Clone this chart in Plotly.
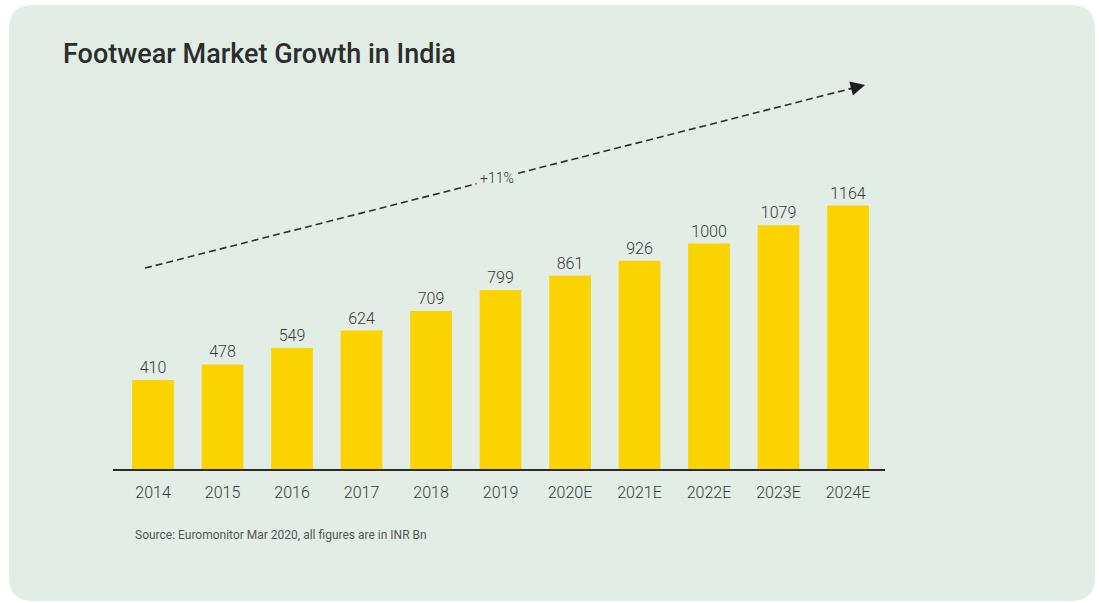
import plotly.graph_objects as go

# Market size by year (INR Bn); "E" marks estimates
years = ["2014", "2015", "2016", "2017", "2018", "2019",
         "2020E", "2021E", "2022E", "2023E", "2024E"]
market_size = [410, 478, 549, 624, 709, 799, 861, 926, 1000, 1079, 1164]

cagr_label = "+11%"
title_text = "Footwear Market Growth in India"
source_text = "Source: Euromonitor Mar 2020, all figures are in INR Bn"

CARD = "#e1ede5"
BAR = "#fbd300"
INK = "#2b2e2c"

W, H = 1099, 603
ML, MR, MT, MB = 113, 214, 60, 134

fig = go.Figure()
fig.add_trace(go.Bar(
    x=list(range(len(years))),
    y=market_size,
    marker=dict(color=BAR, line=dict(width=0)),
    text=[str(v) for v in market_size],
    textposition="outside",
    textfont=dict(family="Roboto", size=16, color="#3a3a3a", weight=300),
    cliponaxis=False,
    width=0.6,
    hoverinfo="skip",
))

# Dashed trend arrow with the growth rate riding on it
arrow_start = (-0.115, 894)
arrow_tip = (10.245, 1685)
frac = 0.975
arrow_body_end = (arrow_start[0] + (arrow_tip[0] - arrow_start[0]) * frac,
                  arrow_start[1] + (arrow_tip[1] - arrow_start[1]) * frac)

fig.add_shape(type="line", xref="x", yref="y",
              x0=arrow_start[0], y0=arrow_start[1],
              x1=arrow_body_end[0], y1=arrow_body_end[1],
              line=dict(color="#2f2f2f", width=1.6, dash="7px,4px"))
fig.add_annotation(x=arrow_tip[0], y=arrow_tip[1], xref="x", yref="y",
                   ax=arrow_body_end[0], ay=arrow_body_end[1], axref="x", ayref="y",
                   text="", showarrow=True, arrowhead=2, arrowsize=1.6,
                   arrowwidth=1.8, arrowcolor="#1e1e1e", standoff=0)

lbl_x = 4.95
lbl_y = arrow_start[1] + (arrow_tip[1] - arrow_start[1]) * (lbl_x - arrow_start[0]) / (arrow_tip[0] - arrow_start[0])
fig.add_annotation(x=lbl_x, y=lbl_y, xref="x", yref="y", text=cagr_label,
                   showarrow=False, bgcolor=CARD, borderpad=3, yshift=1,
                   font=dict(family="Roboto", size=14, color="#333333", weight=300))

# Rounded card behind the chart, built in container fractions then
# converted to paper fractions (paper spans only the plot area)
pw, ph = W - ML - MR, H - MT - MB


def cx(f):
    return (f * W - ML) / pw


def cy(f):
    return (f * H - MB) / ph


r = 24
x0, x1 = 9 / W, 1095 / W
y0, y1 = 1 - 601 / H, 1 - 5 / H
rx, ry = r / W, r / H
card_path = (
    f"M {cx(x0 + rx)},{cy(y1)} L {cx(x1 - rx)},{cy(y1)} Q {cx(x1)},{cy(y1)} {cx(x1)},{cy(y1 - ry)} "
    f"L {cx(x1)},{cy(y0 + ry)} Q {cx(x1)},{cy(y0)} {cx(x1 - rx)},{cy(y0)} "
    f"L {cx(x0 + rx)},{cy(y0)} Q {cx(x0)},{cy(y0)} {cx(x0)},{cy(y0 + ry)} "
    f"L {cx(x0)},{cy(y1 - ry)} Q {cx(x0)},{cy(y1)} {cx(x0 + rx)},{cy(y1)} Z"
)
fig.add_shape(type="path", xref="paper", yref="paper", path=card_path,
              fillcolor=CARD, line=dict(width=0), layer="below")

fig.add_annotation(x=cx(133 / W), y=cy(1 - 535 / H), xref="paper", yref="paper",
                   xanchor="left", yanchor="middle", text=source_text, showarrow=False,
                   font=dict(family="Roboto", size=12, color="#555555"))

fig.update_layout(
    width=W, height=H,
    margin=dict(l=ML, r=MR, t=MT, b=MB),
    paper_bgcolor="white",
    plot_bgcolor="rgba(0,0,0,0)",
    showlegend=False,
    title=dict(text=title_text, xref="container", yref="container",
               x=63 / W, y=1 - 54 / H, xanchor="left", yanchor="middle",
               font=dict(family="Roboto", size=27, color=INK, weight=500)),
    bargap=0.4,
)
fig.update_xaxes(
    range=[-0.576, 10.532],
    tickmode="array", tickvals=list(range(len(years))), ticktext=years,
    showgrid=False, zeroline=False,
    showline=True, linecolor="#2a2a2a", linewidth=2,
    ticks="outside", ticklen=8, tickcolor="rgba(0,0,0,0)",
    tickfont=dict(family="Roboto", size=16, color="#3a3a3a", weight=300),
)
fig.update_yaxes(range=[26, 1793], visible=False)

fig.write_html("out.html")
